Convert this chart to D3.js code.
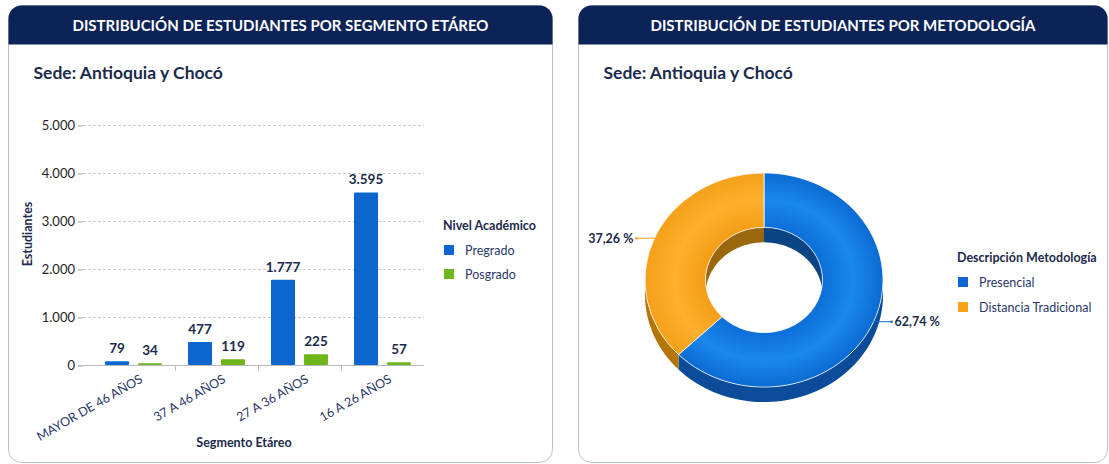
<!DOCTYPE html>
<html>
<head>
<meta charset="utf-8">
<script src="https://cdn.jsdelivr.net/npm/d3@7"></script>
<style>
  body { margin: 0; background: #ffffff; }
  text { font-family: Lato, "Open Sans", sans-serif; }
</style>
</head>
<body>
<div id="chart"></div>
<script>
// data
var segmentos = ["MAYOR DE 46 AÑOS", "37 A 46 AÑOS", "27 A 36 AÑOS", "16 A 26 AÑOS"];
var niveles = ["Pregrado", "Posgrado"];
var pregrado = [79, 477, 1777, 3595];
var posgrado = [34, 119, 225, 57];
var yTicks = [0, 1000, 2000, 3000, 4000, 5000];
var metodologias = ["Presencial", "Distancia Tradicional"];
var porcentajes = [62.74, 37.26];

var navy = "#0b2357", ink = "#1c2a4c";
var colNivel = {"Pregrado": "#0d66d0", "Posgrado": "#6fb61a"};
var colMet = ["#0d66d0", "#f7a21b"];
var colMetSide = ["#0a4c99", "#b47609"];
var colMetInner = ["#0b4482", "#9a670f"];

var es = d3.formatLocale({decimal: ",", thousands: ".", grouping: [3], currency: ["$", ""]});
var fmt = es.format(",d");

var svg = d3.select("#chart").append("svg")
    .attr("width", 1109)
    .attr("height", 464);

// panels with header
function panel(x0, x1, title) {
  var y0 = 5.5, y1 = 462.5, r = 13, hh = 39;
  var g = svg.append("g");
  g.append("rect")
      .attr("x", x0).attr("y", y0)
      .attr("width", x1 - x0).attr("height", y1 - y0)
      .attr("rx", r)
      .attr("fill", "#fff")
      .attr("stroke", "#b9c1cd");
  g.append("path")
      .attr("d", "M" + x0 + "," + (y0 + hh) + "V" + (y0 + r) +
        "A" + r + "," + r + " 0 0 1 " + (x0 + r) + "," + y0 +
        "H" + (x1 - r) + "A" + r + "," + r + " 0 0 1 " + x1 + "," + (y0 + r) +
        "V" + (y0 + hh) + "Z")
      .attr("fill", navy);
  g.append("text")
      .attr("x", (x0 + x1) / 2).attr("y", 30.5)
      .attr("text-anchor", "middle")
      .attr("fill", "#fff")
      .attr("font-size", 15).attr("font-weight", 700)
      .text(title);
  g.append("text")
      .attr("x", x0 + 25).attr("y", 79)
      .attr("fill", ink)
      .attr("font-size", 17.5).attr("font-weight", 700)
      .text("Sede: Antioquia y Chocó");
}
panel(8.5, 552.5, "DISTRIBUCIÓN DE ESTUDIANTES POR SEGMENTO ETÁREO");
panel(578.5, 1107.5, "DISTRIBUCIÓN DE ESTUDIANTES POR METODOLOGÍA");

// ---------- bar chart ----------
var x0 = d3.scaleBand().domain(segmentos).range([92, 424]);
var x1 = d3.scaleBand().domain(niveles).range([13, 70]).paddingInner(0.27);
var y = d3.scaleLinear().domain([0, 5000]).range([365, 125]);

var bars = svg.append("g");

// grid
bars.selectAll(".grid").data(yTicks.filter(function(d) { return d > 0; }))
  .enter().append("line")
    .attr("x1", 83).attr("x2", 424)
    .attr("y1", function(d) { return y(d) + 0.5; })
    .attr("y2", function(d) { return y(d) + 0.5; })
    .attr("stroke", "#c9ccd2")
    .attr("stroke-dasharray", "3,2");

// Y axis
var yAxis = bars.append("g")
    .attr("transform", "translate(83,0.5)")
    .call(d3.axisLeft(y).tickValues(yTicks).tickFormat(fmt).tickSize(5).tickPadding(3));
yAxis.select(".domain").remove();
yAxis.selectAll(".tick line").attr("stroke", "#9aa0a8");
yAxis.selectAll("text")
    .attr("font-family", "Lato, sans-serif")
    .attr("font-size", 13)
    .attr("fill", "#1e2128");

// X axis
var xAxis = bars.append("g")
    .attr("transform", "translate(0,365.5)");
xAxis.append("line")
    .attr("x1", 78).attr("x2", 424)
    .attr("stroke", "#b5b9c0");
xAxis.selectAll(".sep").data(segmentos.slice(1))
  .enter().append("line")
    .attr("x1", function(d) { return Math.round(x0(d)) + 0.5; })
    .attr("x2", function(d) { return Math.round(x0(d)) + 0.5; })
    .attr("y1", 0).attr("y2", 5)
    .attr("stroke", "#b5b9c0");
xAxis.selectAll(".lbl").data(segmentos)
  .enter().append("text")
    .attr("transform", function(d) {
      return "translate(" + (x0(d) + x0.bandwidth() / 2 + 10) + ",16) rotate(-30)";
    })
    .attr("text-anchor", "end")
    .attr("font-size", 12.5)
    .attr("fill", "#2b3868")
    .text(function(d) { return d; });

// bars
var series = {"Pregrado": pregrado, "Posgrado": posgrado};
niveles.forEach(function(n) {
  var vals = series[n];
  var g = bars.append("g");
  g.selectAll("rect").data(segmentos)
    .enter().append("rect")
      .attr("x", function(d) { return x0(d) + x1(n); })
      .attr("width", x1.bandwidth())
      .attr("y", function(d, i) { return y(vals[i]); })
      .attr("height", function(d, i) { return y(0) - y(vals[i]); })
      .attr("rx", 1)
      .attr("fill", colNivel[n]);
  g.selectAll("text").data(segmentos)
    .enter().append("text")
      .attr("x", function(d) { return x0(d) + x1(n) + x1.bandwidth() / 2; })
      .attr("y", function(d, i) { return y(vals[i]) - 8; })
      .attr("text-anchor", "middle")
      .attr("font-size", 13.5).attr("font-weight", 700)
      .attr("fill", ink)
      .text(function(d, i) { return fmt(vals[i]); });
});

// axis titles
bars.append("text")
    .attr("transform", "translate(32,234) rotate(-90)")
    .attr("text-anchor", "middle")
    .attr("font-size", 12.5).attr("font-weight", 700)
    .attr("fill", ink)
    .text("Estudiantes");
bars.append("text")
    .attr("x", 244).attr("y", 447)
    .attr("text-anchor", "middle")
    .attr("font-size", 12.5).attr("font-weight", 700)
    .attr("fill", ink)
    .text("Segmento Etáreo");

// legend
var leg = bars.append("g").attr("transform", "translate(443,230)");
leg.append("text")
    .attr("font-size", 12.5).attr("font-weight", 700)
    .attr("fill", ink)
    .text("Nivel Académico");
niveles.forEach(function(n, i) {
  leg.append("rect")
      .attr("x", 1).attr("y", 15 + i * 24)
      .attr("width", 10).attr("height", 10)
      .attr("fill", colNivel[n]);
  leg.append("text")
      .attr("x", 22).attr("y", 24.5 + i * 24)
      .attr("font-size", 12.5)
      .attr("fill", "#2b3868")
      .text(n);
});

// ---------- 3D donut ----------
var cx = 764, cy = 280, R = 119, r0 = 58.5, k = 0.9, depth = 15;
var pie = d3.pie().sort(null).value(function(d) { return d; });
var arcsData = pie(porcentajes);

var donut = svg.append("g").attr("transform", "translate(" + cx + "," + cy + ")");

var defs = svg.append("defs");
[["gBlue", ["#0a66cf", "#0c6fd8", "#1a88ee", "#0b6bd2"]],
 ["gOrange", ["#f29510", "#f59e16", "#fcb02e", "#f5a01a"]]].forEach(function(g) {
  var grad = defs.append("radialGradient")
      .attr("id", g[0])
      .attr("gradientUnits", "userSpaceOnUse")
      .attr("cx", 0).attr("cy", 0).attr("r", R);
  [0, 0.5, 0.75, 1].forEach(function(o, i) {
    grad.append("stop").attr("offset", o).attr("stop-color", g[1][i]);
  });
});

function pt(a, rad, dz) { return [rad * Math.sin(a), -rad * Math.cos(a) * k + dz]; }
function band(rad, a0, a1) {
  if (a1 <= a0) return null;
  var n = 60, top = [], bot = [];
  for (var i = 0; i <= n; i++) {
    var a = a0 + (a1 - a0) * i / n;
    top.push(pt(a, rad, 0));
    bot.push(pt(a, rad, depth));
  }
  return d3.line()(top.concat(bot.reverse())) + "Z";
}

// inner walls (back half visible through the hole)
arcsData.forEach(function(d, i) {
  [[0, Math.PI / 2], [Math.PI * 1.5, Math.PI * 2]].forEach(function(rg) {
    var p = band(r0, Math.max(d.startAngle, rg[0]), Math.min(d.endAngle, rg[1]));
    if (p) donut.append("path").attr("d", p).attr("fill", colMetInner[i]);
  });
});
// outer walls (front half)
arcsData.forEach(function(d, i) {
  var p = band(R, Math.max(d.startAngle, Math.PI / 2), Math.min(d.endAngle, Math.PI * 1.5));
  if (p) donut.append("path").attr("d", p).attr("fill", colMetSide[i]);
});
// top faces
var arc = d3.arc().innerRadius(r0).outerRadius(R);
donut.append("g").attr("transform", "scale(1," + k + ")")
  .selectAll("path").data(arcsData)
  .enter().append("path")
    .attr("d", arc)
    .attr("fill", function(d, i) { return i === 0 ? "url(#gBlue)" : "url(#gOrange)"; })
    .attr("stroke", "rgba(255,255,255,0.75)")
    .attr("stroke-width", 1)
    .attr("vector-effect", "non-scaling-stroke");

// slice labels with leaders
arcsData.forEach(function(d, i) {
  var mid = (d.startAngle + d.endAngle) / 2;
  var p = pt(mid, R, 0);
  var side = Math.sin(mid) < 0 ? -1 : 1;
  var ex = p[0] + side * 18;
  donut.append("line")
      .attr("x1", p[0]).attr("y1", p[1])
      .attr("x2", ex).attr("y2", p[1])
      .attr("stroke", colMet[i]).attr("stroke-width", 1);
  donut.append("circle")
      .attr("cx", ex).attr("cy", p[1]).attr("r", 1.3)
      .attr("fill", colMet[i]);
  donut.append("text")
      .attr("x", ex + side * 3).attr("y", p[1])
      .attr("dy", "0.35em")
      .attr("text-anchor", side < 0 ? "end" : "start")
      .attr("font-size", 12.5).attr("font-weight", 700)
      .attr("fill", ink)
      .text(es.format(".2f")(porcentajes[i]) + " %");
});

// legend
var leg2 = svg.append("g").attr("transform", "translate(957,262)");
leg2.append("text")
    .attr("font-size", 12.5).attr("font-weight", 700)
    .attr("fill", ink)
    .text("Descripción Metodología");
metodologias.forEach(function(m, i) {
  leg2.append("rect")
      .attr("x", 1).attr("y", 15 + i * 25)
      .attr("width", 10).attr("height", 10)
      .attr("fill", colMet[i]);
  leg2.append("text")
      .attr("x", 22).attr("y", 24.5 + i * 25)
      .attr("font-size", 12.5)
      .attr("fill", "#2b3868")
      .text(m);
});
</script>
</body>
</html>
